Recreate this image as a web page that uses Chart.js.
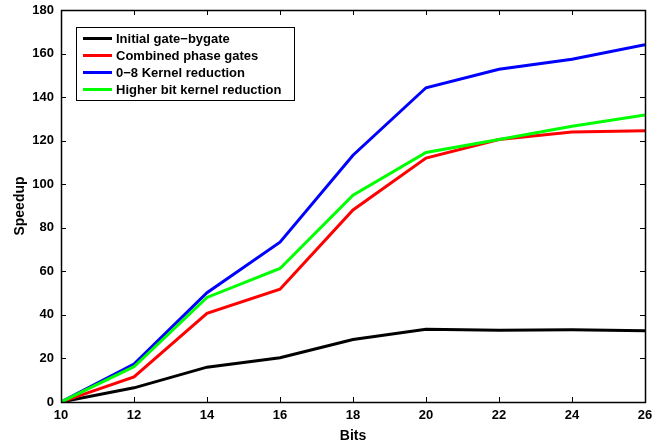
<!DOCTYPE html>
<html>
<head>
<meta charset="utf-8">
<script src="https://cdn.jsdelivr.net/npm/chart.js@4/dist/chart.umd.min.js"></script>
<style>
  html, body { margin: 0; padding: 0; background: #fff; }
  canvas { display: block; }
</style>
</head>
<body>
<canvas id="c" width="654" height="448"></canvas>
<script>
const bits = [10, 12, 14, 16, 18, 20, 22, 24, 26];
const initialGate = [0, 6.5, 16, 20.3, 28.7, 33.4, 33, 33.2, 32.7];
const combinedPhase = [0, 11.5, 40.7, 51.8, 88.2, 112, 120.5, 124, 124.6];
const kernel08 = [0, 17.4, 50.2, 73.4, 113.3, 144.3, 152.8, 157.4, 164];
const higherBit = [0, 16.2, 48, 61.3, 95, 114.6, 120.5, 126.6, 131.8];
const seriesLabels = ['Initial gate\u2212bygate', 'Combined phase gates', '0\u22128 Kernel reduction', 'Higher bit kernel reduction'];
const xTicks = [10, 12, 14, 16, 18, 20, 22, 24, 26];
const yTicks = [0, 20, 40, 60, 80, 100, 120, 140, 160, 180];

const FONT = 'Liberation Sans, Arial, sans-serif';

function mk(vals) { return bits.map((b, i) => ({ x: b, y: vals[i] })); }

const framePlugin = {
  id: 'frame',
  afterDatasetsDraw(chart) {
    const { ctx, chartArea: a, scales } = chart;
    ctx.save();
    ctx.strokeStyle = '#000';
    ctx.lineWidth = 1;
    const tl = 5;
    ctx.beginPath();
    xTicks.forEach(v => {
      const px = Math.round(scales.x.getPixelForValue(v)) + 0.5;
      ctx.moveTo(px, a.bottom); ctx.lineTo(px, a.bottom - tl);
      ctx.moveTo(px, a.top); ctx.lineTo(px, a.top + tl);
    });
    yTicks.forEach(v => {
      const py = Math.round(scales.y.getPixelForValue(v)) + 0.5;
      ctx.moveTo(a.left, py); ctx.lineTo(a.left + tl, py);
      ctx.moveTo(a.right, py); ctx.lineTo(a.right - tl, py);
    });
    ctx.stroke();
    ctx.lineWidth = 1.5;
    ctx.strokeRect(Math.round(a.left) + 0.5, Math.round(a.top) + 0.5, Math.round(a.right - a.left), Math.round(a.bottom - a.top));
    ctx.restore();
  },
  afterDraw(chart) {
    const { ctx } = chart;
    const ds = chart.data.datasets;
    ctx.save();
    const bx = 76.5, by = 27.5, bw = 218, bh = 73;
    ctx.fillStyle = '#fff';
    ctx.fillRect(bx, by, bw, bh);
    ctx.strokeStyle = '#000';
    ctx.lineWidth = 1;
    ctx.strokeRect(bx, by, bw, bh);
    ctx.font = 'bold 13px ' + FONT;
    ctx.textBaseline = 'middle';
    ctx.textAlign = 'left';
    ds.forEach((d, i) => {
      const y = 38.5 + i * 17;
      ctx.strokeStyle = d.borderColor;
      ctx.lineWidth = 3;
      ctx.beginPath();
      ctx.moveTo(83, y); ctx.lineTo(112, y);
      ctx.stroke();
      ctx.fillStyle = '#000';
      ctx.fillText(d.label, 116, y + 0.5);
    });
    ctx.restore();
  }
};

new Chart(document.getElementById('c'), {
  type: 'line',
  data: {
    datasets: [
      { label: seriesLabels[0], data: mk(initialGate), borderColor: '#000000', order: 4 },
      { label: seriesLabels[1], data: mk(combinedPhase), borderColor: '#ff0000', order: 3 },
      { label: seriesLabels[2], data: mk(kernel08), borderColor: '#0000ff', order: 2 },
      { label: seriesLabels[3], data: mk(higherBit), borderColor: '#00ff00', order: 1 }
    ]
  },
  options: {
    responsive: false,
    animation: false,
    devicePixelRatio: 1,
    layout: { padding: { left: 0, right: 9, top: 10, bottom: 0 } },
    elements: {
      line: { borderWidth: 3, tension: 0, fill: false },
      point: { radius: 0 }
    },
    plugins: { legend: { display: false }, tooltip: { enabled: false } },
    scales: {
      x: {
        type: 'linear', min: 10, max: 26,
        afterFit(s) { s.height = 46; s.paddingLeft = 0; s.paddingRight = 0; },
        afterBuildTicks(s) { s.ticks = xTicks.map(v => ({ value: v })); },
        grid: { display: false, drawTicks: false },
        border: { display: false },
        ticks: { color: '#000', padding: 6, maxRotation: 0, font: { family: FONT, size: 13, weight: 'bold' } },
        title: { display: true, text: 'Bits', color: '#000', padding: { top: 0, bottom: 3 }, font: { family: FONT, size: 14, weight: 'bold' } }
      },
      y: {
        type: 'linear', min: 0, max: 180,
        afterFit(s) { s.width = 61; s.paddingTop = 0; s.paddingBottom = 0; },
        afterBuildTicks(s) { s.ticks = yTicks.map(v => ({ value: v })); },
        grid: { display: false, drawTicks: false },
        border: { display: false },
        ticks: { color: '#000', padding: 7, font: { family: FONT, size: 13, weight: 'bold' } },
        title: { display: true, text: 'Speedup', color: '#000', padding: { top: 12, bottom: 0 }, font: { family: FONT, size: 14, weight: 'bold' } }
      }
    }
  },
  plugins: [framePlugin]
});
</script>
</body>
</html>
